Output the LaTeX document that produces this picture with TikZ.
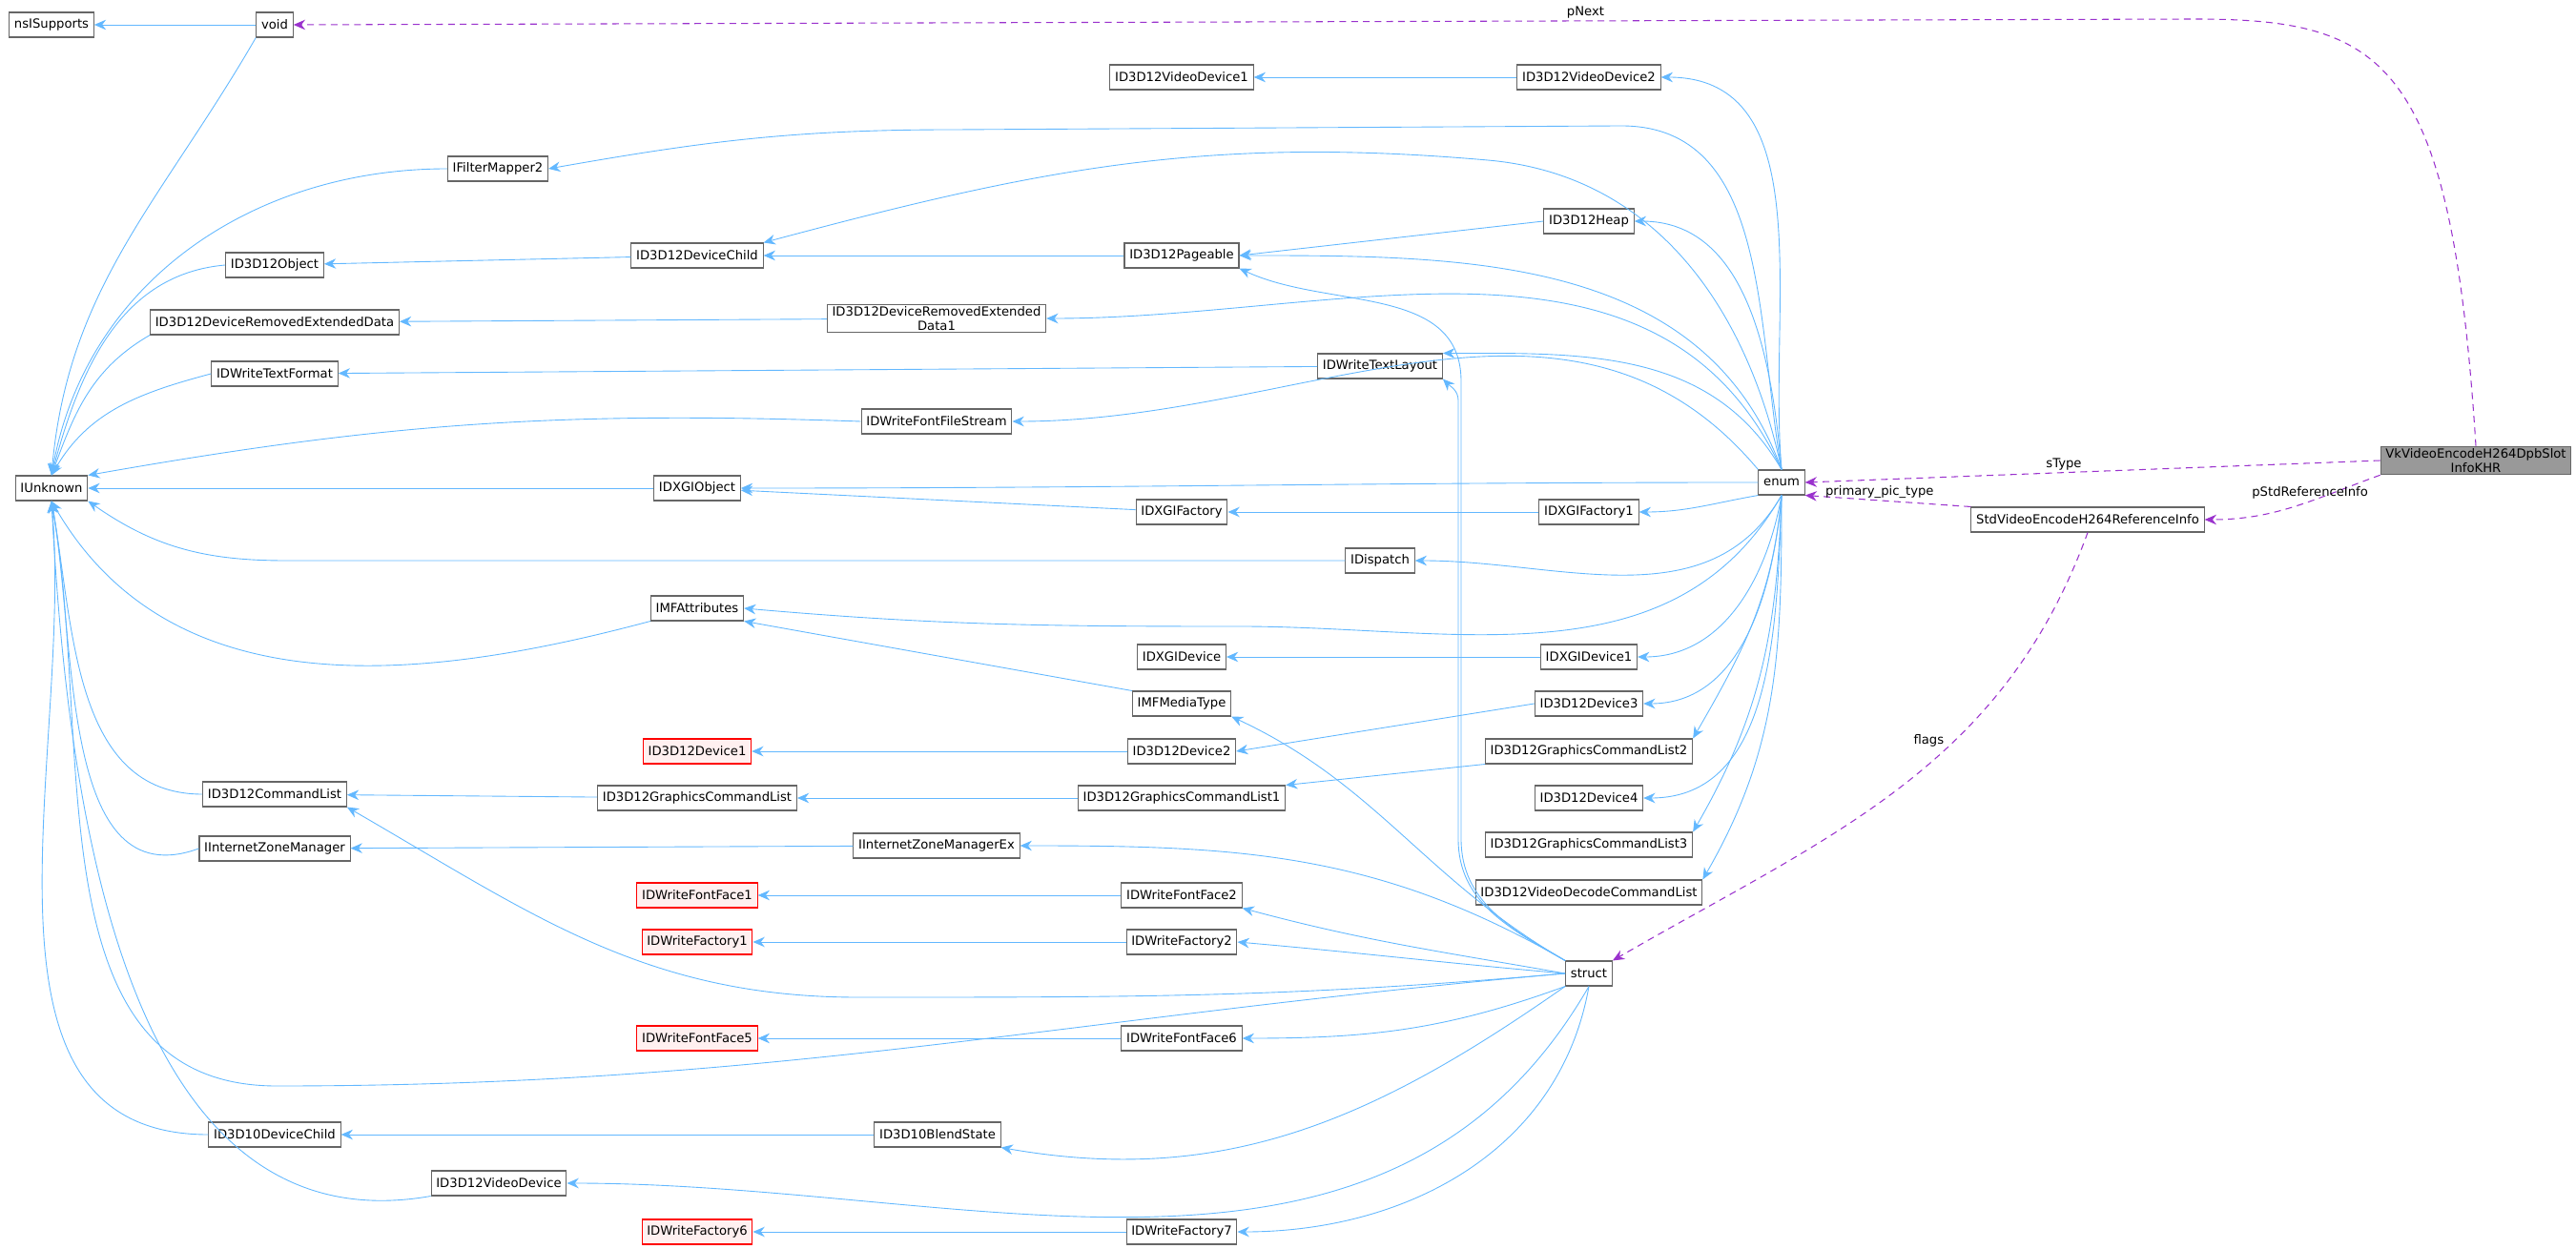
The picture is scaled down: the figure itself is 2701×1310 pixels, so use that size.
\documentclass[tikz,border=0pt]{standalone}
\usepackage{fontspec}
\setmainfont{DejaVu Sans}
\usepackage{tikz}
\usetikzlibrary{arrows.meta}
\definecolor{EdgeBlue}{HTML}{63B8FF}
\definecolor{EdgePurple}{HTML}{9A32CD}
\definecolor{BoxGrey}{HTML}{666666}
\tikzset{
  cls/.style={rectangle, draw=BoxGrey, fill=white, line width=0.6pt, minimum height=0.52cm, inner xsep=3pt, inner ysep=1pt, font=\fontsize{7.5}{9}\selectfont, align=center},
  redcls/.style={cls, draw=red, fill=red!6},
  maincls/.style={cls, fill=black!40},
  inh/.style={-{Stealth[length=7pt,width=6pt]}, EdgeBlue, line width=0.5pt},
  dep/.style={-{Stealth[length=7pt,width=6pt]}, EdgePurple, dashed, dash pattern=on 4pt off 3pt, line width=0.6pt},
  lbl/.style={font=\fontsize{7.5}{9}\selectfont, text=black, inner sep=1pt}
}
\begin{document}
\begin{tikzpicture}[x=0.02cm, y=-0.02cm]
  \useasboundingbox (0,0) rectangle (2701,1310);
  % column 1
  \node[cls] (nsis) at (54,26) {nsISupports};
  \node[cls] (iunk) at (54,512) {IUnknown};
  % column 2
  \node[cls] (void) at (288,26) {void};
  \node[cls] (d3dobj) at (288,278) {ID3D12Object};
  \node[cls] (dred) at (288,338) {ID3D12DeviceRemovedExtendedData};
  \node[cls] (txtfmt) at (288,392) {IDWriteTextFormat};
  \node[cls] (cmdlist) at (288,833) {ID3D12CommandList};
  \node[cls] (izm) at (288,890) {IInternetZoneManager};
  \node[cls] (d10child) at (288,1190) {ID3D10DeviceChild};
  \node[cls] (viddev) at (523,1241) {ID3D12VideoDevice};
  \node[cls] (filter) at (522,177) {IFilterMapper2};
  % column 3
  \node[cls] (devchild) at (731,268) {ID3D12DeviceChild};
  \node[cls] (dxgiobj) at (731,512) {IDXGIObject};
  \node[cls] (mfattr) at (731,638) {IMFAttributes};
  \node[redcls] (dev1) at (731,788) {ID3D12Device1};
  \node[cls] (gcl) at (731,837) {ID3D12GraphicsCommandList};
  \node[redcls] (ff1) at (731,939) {IDWriteFontFace1};
  \node[redcls] (fac1) at (731,988) {IDWriteFactory1};
  \node[redcls] (ff5) at (731,1089) {IDWriteFontFace5};
  \node[redcls] (fac6) at (731,1292) {IDWriteFactory6};
  % column 4
  \node[cls] (dred1) at (982,334) {ID3D12DeviceRemovedExtended\\Data1};
  \node[cls] (ffstream) at (982,442) {IDWriteFontFileStream};
  \node[cls] (izmex) at (982,887) {IInternetZoneManagerEx};
  \node[cls] (blend) at (983,1190) {ID3D10BlendState};
  % column 5
  \node[cls] (vid1) at (1239,81) {ID3D12VideoDevice1};
  \node[cls] (pageable) at (1239,268) {ID3D12Pageable};
  \node[cls] (dxgifac) at (1239,537) {IDXGIFactory};
  \node[cls] (dxgidev) at (1239,689) {IDXGIDevice};
  \node[cls] (mfmedia) at (1239,738) {IMFMediaType};
  \node[cls] (dev2) at (1239,788) {ID3D12Device2};
  \node[cls] (gcl1) at (1239,837) {ID3D12GraphicsCommandList1};
  \node[cls] (ff2) at (1239,939) {IDWriteFontFace2};
  \node[cls] (fac2) at (1239,988) {IDWriteFactory2};
  \node[cls] (ff6) at (1239,1089) {IDWriteFontFace6};
  \node[cls] (fac7) at (1239,1292) {IDWriteFactory7};
  \node[cls] (txtlay) at (1447,384) {IDWriteTextLayout};
  \node[cls] (disp) at (1447,588) {IDispatch};
  % column 6
  \node[cls] (vid2) at (1666,81) {ID3D12VideoDevice2};
  \node[cls] (heap) at (1666,232) {ID3D12Heap};
  \node[cls] (dxgifac1) at (1666,537) {IDXGIFactory1};
  \node[cls] (dxgidev1) at (1666,689) {IDXGIDevice1};
  \node[cls] (dev3) at (1666,738) {ID3D12Device3};
  \node[cls] (gcl2) at (1666,788) {ID3D12GraphicsCommandList2};
  \node[cls] (dev4) at (1666,837) {ID3D12Device4};
  \node[cls] (gcl3) at (1666,886) {ID3D12GraphicsCommandList3};
  \node[cls] (vdcl) at (1666,936) {ID3D12VideoDecodeCommandList};
  \node[cls] (struct) at (1666,1021) {struct};
  \node[cls] (enum) at (1868,506) {enum};
  \node[cls] (stdref) at (2189,545) {StdVideoEncodeH264ReferenceInfo};
  \node[maincls] (vk) at (2596,483) {VkVideoEncodeH264DpbSlot\\InfoKHR};

  % inheritance into IUnknown
  \draw[inh] (void) -- (nsis);
  \draw[inh] (void.south west) to[out=240,in=85] (iunk.north);
  \draw[inh] (filter.west) to[out=180,in=80] (iunk.north);
  \draw[inh] (d3dobj.west) to[out=185,in=75] (iunk.north);
  \draw[inh] (dred.south west) to[out=210,in=70] (iunk.north);
  \draw[inh] (txtfmt.west) to[out=195,in=60] (iunk.north);
  \draw[inh] (ffstream.west) to[out=178,in=10] (iunk.north east);
  \draw[inh] (dxgiobj) -- (iunk);
  \draw[inh] (disp.west) -- (300,588) to[out=180,in=-35] (iunk.south east);
  \draw[inh] (mfattr.south west) to[out=195,in=-60] (iunk.south);
  \draw[inh] (cmdlist.west) to[out=180,in=-80] (iunk.south);
  \draw[inh] (izm.west) to[out=200,in=-80] (iunk.south);
  \draw[inh] (struct.west) to[out=185,in=0] (290,1139) to[out=180,in=-80] (iunk.south);
  \draw[inh] (d10child.west) to[out=180,in=-85] (iunk.south);
  \draw[inh] (viddev.south west) to[out=190,in=-87] (iunk.south);
  % second level
  \draw[inh] (devchild) -- (d3dobj);
  \draw[inh] (dred1) -- (dred);
  \draw[inh] (txtlay) -- (txtfmt);
  \draw[inh] (dxgifac) -- (dxgiobj);
  \draw[inh] (mfmedia.north west) -- (mfattr.south east);
  \draw[inh] (gcl) -- (cmdlist);
  \draw[inh] (izmex) -- (izm);
  \draw[inh] (blend) -- (d10child);
  \draw[inh] (pageable) -- (devchild);
  \draw[inh] (vid2) -- (vid1);
  \draw[inh] (heap.west) -- (pageable.east);
  \draw[inh] (dxgifac1) -- (dxgifac);
  \draw[inh] (dxgidev1) -- (dxgidev);
  \draw[inh] (dev2) -- (dev1);
  \draw[inh] (dev3.west) -- (dev2.east);
  \draw[inh] (gcl1) -- (gcl);
  \draw[inh] (gcl2.south west) -- (gcl1.north east);
  \draw[inh] (ff2) -- (ff1);
  \draw[inh] (fac2) -- (fac1);
  \draw[inh] (ff6) -- (ff5);
  \draw[inh] (fac7) -- (fac6);
  % from enum
  \draw[inh] (enum.north) to[out=95,in=0] (vid2.east);
  \draw[inh] (enum.north) to[out=100,in=0] (1700,132) -- (1000,136) to[out=180,in=10] (filter.east);
  \draw[inh] (enum.north) to[out=102,in=-5] (1560,168) to[out=175,in=15] (devchild.north east);
  \draw[inh] (enum.north) to[out=95,in=0] (heap.east);
  \draw[inh] (enum.north) to[out=110,in=0] (pageable.east);
  \draw[inh] (enum.north) to[out=115,in=0] (dred1.east);
  \draw[inh] (enum.north) to[out=120,in=0] (txtlay.north east);
  \draw[inh] (enum.north west) to[out=130,in=0] (ffstream.east);
  \draw[inh] (enum.west) to[out=180,in=0] (dxgiobj.east);
  \draw[inh] (enum.south west) to[out=190,in=0] (dxgifac1.east);
  \draw[inh] (enum.south) to[out=240,in=0] (disp.east);
  \draw[inh] (enum.south) to[out=240,in=0] (1300,657) to[out=180,in=-5] (mfattr.east);
  \draw[inh] (enum.south) to[out=260,in=0] (dxgidev1.east);
  \draw[inh] (enum.south) to[out=265,in=0] (dev3.east);
  \draw[inh] (enum.south) to[out=265,in=60] (gcl2.north east);
  \draw[inh] (enum.south) to[out=268,in=0] (dev4.east);
  \draw[inh] (enum.south) to[out=268,in=60] (gcl3.north east);
  \draw[inh] (enum.south) to[out=270,in=60] (vdcl.north east);
  % from struct
  \draw[inh] (struct.north west) to[out=150,in=-90] (1532,880) -- (1532,400) to[out=90,in=-25] (pageable.south east);
  \draw[inh] (struct.north west) to[out=150,in=-90] (1529,880) -- (1529,420) to[out=90,in=-45] (txtlay.south east);
  \draw[inh] (struct.north west) to[out=150,in=-25] (mfmedia.south east);
  \draw[inh] (struct.north west) to[out=150,in=0] (izmex.east);
  \draw[inh] (struct.west) to[out=170,in=-15] (ff2.south east);
  \draw[inh] (struct.west) to[out=175,in=-5] (fac2.east);
  \draw[inh] (struct.west) to[out=185,in=0] (900,1046) to[out=180,in=-30] (cmdlist.south east);
  \draw[inh] (struct.south west) to[out=200,in=0] (ff6.east);
  \draw[inh] (struct.south west) to[out=215,in=-10] (blend.south east);
  \draw[inh] (struct.south) to[out=240,in=0] (viddev.east);
  \draw[inh] (struct.south) to[out=260,in=0] (fac7.east);
  % members
  \draw[dep] (vk.north) .. controls (2570,60) and (2500,20) .. (2300,20) -- node[lbl, above, pos=0.32] {pNext} (void.east);
  \draw[dep] (vk.west) -- node[lbl, above, pos=0.55] {sType} (enum.east);
  \draw[dep] (vk.south west) to[out=200,in=0] node[lbl, above, pos=0.4] {pStdReferenceInfo} (stdref.east);
  \draw[dep] (stdref.north west) -- node[lbl, above, pos=0.55] {primary\_pic\_type} (enum.south east);
  \draw[dep] (stdref.south) to[out=250,in=30] node[lbl, above left, pos=0.4] {flags} (struct.north east);
\end{tikzpicture}
\end{document}
